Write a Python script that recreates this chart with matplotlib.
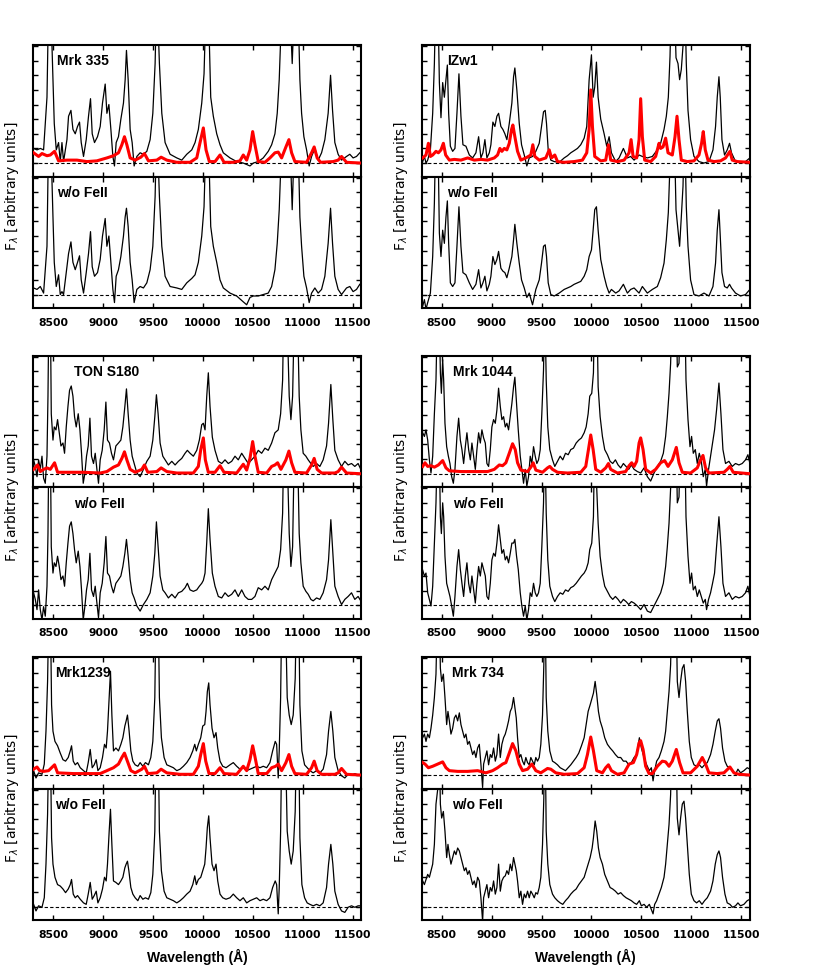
import numpy as np
import matplotlib
matplotlib.use('Agg')
import matplotlib.pyplot as plt

plt.rcParams['font.family'] = ['Liberation Sans', 'DejaVu Sans']

# spectra: (wavelength [A], flux with FeII, flux w/o FeII)
# flux in tick units, 0 = dashed baseline; values > 8 run off the panel top
mrk335 = [
    (8303, 1.0, 0.45), (8337, 0.9, 0.35), (8370, 1.0, 0.55), (8403, 0.9, 0.1), (8437, 4.5, 3.3),
    (8453, 11, 11), (8470, 12, 12), (8497, 5.7, 5.3), (8510, 2.7, 2.2), (8530, 0.9, 0.55),
    (8553, 1.4, 1.35), (8570, 0.1, 0.0), (8587, 1.4, 0.2), (8603, 0.1, 0.0), (8637, 1.6, 1.9),
    (8653, 3.2, 2.8), (8677, 3.6, 3.6), (8697, 2.3, 2.2), (8720, 2.0, 1.7), (8743, 2.5, 2.2),
    (8763, 2.8, 2.65), (8780, 1.4, 1.0), (8803, 0.45, 0.1), (8830, 1.6, 1.5), (8853, 3.2, 2.8),
    (8873, 4.4, 4.3), (8890, 2.0, 1.9), (8913, 1.4, 1.25), (8943, 1.8, 1.5), (8970, 2.5, 2.4),
    (8993, 4.1, 4.0), (9020, 5.4, 5.2), (9037, 3.4, 3.3), (9057, 4.0, 4.0), (9077, 2.3, 2.2),
    (9097, 0.45, 0.35), (9113, -0.2, -0.55), (9130, 1.4, 1.25), (9153, 1.8, 1.7), (9177, 3.0, 2.6),
    (9203, 4.1, 4.0), (9220, 5.7, 5.3), (9233, 7.7, 5.9), (9250, 5.7, 4.65), (9270, 2.3, 2.2),
    (9290, 1.4, 1.0), (9310, -0.2, -0.55), (9337, 0.45, 0.35), (9370, 0.7, 0.55), (9403, 0.6, 0.45),
    (9437, 0.8, 0.8), (9470, 1.6, 1.7), (9497, 3.4, 3.3), (9520, 6.8, 6.7), (9537, 12, 12),
    (9563, 6.8, 6.7), (9587, 3.4, 3.3), (9620, 1.4, 1.25), (9670, 0.6, 0.55), (9737, 0.35, 0.45),
    (9787, 0.2, 0.35), (9837, 0.6, 0.8), (9887, 0.9, 1.1), (9920, 1.4, 1.35), (9953, 2.3, 2.2),
    (9987, 4.1, 4.0), (10010, 6.1, 6.0), (10030, 11, 11), (10053, 11, 11), (10077, 4.5, 4.65),
    (10103, 3.2, 3.3), (10137, 2.0, 2.2), (10170, 1.25, 1.0), (10203, 0.7, 0.45), (10270, 0.35, 0.1),
    (10337, 0.1, -0.1), (10403, 0.0, -0.5), (10437, -0.1, -0.7), (10470, -0.2, -0.2), (10503, 0.0, -0.1),
    (10553, 0.1, -0.1), (10603, 0.35, 0.0), (10653, 0.8, 0.1), (10687, 1.25, 0.55), (10720, 2.0, 1.7),
    (10743, 3.4, 3.5), (10763, 5.7, 5.8), (10780, 9, 9), (10830, 14, 14), (10865, 12, 12),
    (10880, 9, 8.5), (10893, 6.8, 5.8), (10905, 9, 8.5), (10940, 14, 14), (10970, 5.7, 5.3),
    (10987, 3.4, 3.3), (11010, 1.8, 1.25), (11037, 0.9, 0.45), (11063, -0.2, -0.55), (11087, 0.45, 0.1),
    (11120, 1.0, 0.45), (11153, 0.2, 0.1), (11187, 0.7, 0.35), (11220, 1.6, 1.25), (11253, 3.4, 3.5),
    (11277, 6.0, 5.9), (11297, 3.6, 3.5), (11320, 1.4, 1.25), (11353, 0.6, 0.35), (11387, 0.2, 0.0),
    (11437, 0.45, 0.45), (11470, 0.6, 0.55), (11503, 0.35, 0.2), (11537, 0.45, 0.35), (11570, 0.7, 0.7),
]
# FeII template (red)
mrk335_fe = [
    (8303, 0.7), (8353, 0.45), (8387, 0.65), (8437, 0.5), (8470, 0.55), (8513, 0.8), (8553, 0.15),
    (8637, 0.2), (8737, 0.2), (8837, 0.1), (8937, 0.15), (9037, 0.35), (9103, 0.5), (9153, 0.7),
    (9187, 1.25), (9213, 1.8), (9237, 1.25), (9270, 0.35), (9320, 0.2), (9377, 0.4), (9413, 0.65),
    (9453, 0.15), (9537, 0.2), (9580, 0.4), (9637, 0.2), (9737, 0.05), (9870, 0.05), (9937, 0.35),
    (9970, 1.4), (10003, 2.4), (10030, 0.9), (10063, 0.1), (10120, 0.1), (10170, 0.55), (10210, 0.05),
    (10303, 0.05), (10370, 0.15), (10403, 0.55), (10437, 0.2), (10470, 0.9), (10497, 2.15), (10520, 1.25),
    (10553, 0.1), (10620, 0.05), (10670, 0.35), (10720, 0.7), (10753, 0.75), (10787, 0.35), (10830, 1.1),
    (10860, 1.6), (10887, 0.7), (10920, 0.1), (11037, 0.05), (11087, 0.7), (11113, 1.1), (11143, 0.35),
    (11177, 0.05), (11303, 0.1), (11353, 0.2), (11387, 0.45), (11437, 0.05), (11580, 0.0),
]

izw1 = [
    (8310, 0.1, -0.8), (8327, 0.45, -0.35), (8343, 0.0, -1.0), (8360, 0.2, -0.55), (8387, 0.9, 0.1),
    (8410, 3.4, 2.6), (8427, 6.8, 6.25), (8443, 12, 12), (8460, 12, 12), (8477, 5.5, 4.2),
    (8493, 3.1, 2.6), (8510, 5.5, 4.4), (8527, 4.5, 3.5), (8543, 5.7, 5.3), (8557, 6.7, 6.4),
    (8570, 3.4, 3.5), (8587, 1.15, 0.8), (8610, 0.8, 0.55), (8633, 1.0, 0.8), (8653, 3.4, 3.3),
    (8673, 6.1, 6.0), (8693, 3.2, 3.3), (8713, 1.25, 1.5), (8743, 1.15, 1.35), (8777, 0.55, 0.8),
    (8810, 0.35, 0.35), (8843, 0.7, 0.7), (8870, 1.8, 1.7), (8893, 0.35, 0.45), (8913, 0.7, 0.8),
    (8933, 1.6, 1.25), (8953, 0.35, 0.25), (8977, 0.7, 0.7), (8993, 1.25, 1.25), (9013, 2.8, 2.6),
    (9033, 2.5, 2.05), (9053, 3.2, 2.4), (9070, 3.4, 2.95), (9093, 2.5, 1.8), (9113, 2.3, 1.6),
    (9133, 2.0, 1.5), (9153, 1.6, 1.15), (9177, 2.7, 1.8), (9203, 4.1, 2.6), (9220, 5.9, 3.75),
    (9233, 6.5, 4.8), (9253, 5.0, 3.5), (9277, 2.7, 2.15), (9300, 1.25, 1.0), (9327, 0.55, 0.45),
    (9353, -0.2, -0.2), (9377, 0.35, 0.1), (9410, 0.45, -0.7), (9443, 0.8, 0.35), (9477, 1.35, 1.0),
    (9500, 2.5, 2.15), (9520, 3.5, 3.3), (9537, 3.6, 3.4), (9550, 2.7, 2.6), (9567, 0.9, 0.8),
    (9593, 0.2, 0.0), (9627, 0.1, -0.1), (9677, 0.05, 0.1), (9727, 0.35, 0.35), (9760, 0.5, 0.45),
    (9793, 0.7, 0.55), (9827, 0.85, 0.7), (9860, 1.0, 0.8), (9893, 1.25, 0.9), (9927, 1.7, 1.25),
    (9953, 2.5, 1.7), (9977, 5.7, 2.6), (10000, 7.4, 3.05), (10017, 4.5, 4.4), (10033, 5.2, 5.8),
    (10050, 6.9, 6.0), (10067, 4.5, 4.4), (10093, 3.0, 2.4), (10127, 2.0, 1.25), (10153, 1.15, 0.55),
    (10177, 1.8, 0.1), (10200, 0.7, 0.35), (10243, 0.1, 0.1), (10277, 0.35, 0.25), (10320, 1.0, 0.7),
    (10360, 0.35, 0.1), (10393, 0.45, 0.35), (10427, 0.2, 0.45), (10477, 0.55, 0.1), (10510, 0.45, 0.55),
    (10560, 0.35, 0.1), (10610, 0.45, 0.35), (10660, 0.9, 0.55), (10693, 1.35, 1.15), (10727, 2.3, 2.15),
    (10750, 3.2, 3.75), (10770, 4.5, 5.6), (10787, 7.3, 9), (10803, 12, 12), (10827, 12, 12),
    (10847, 7.2, 5.8), (10867, 6.8, 4.4), (10883, 5.7, 3.3), (10900, 6.4, 5.3), (10917, 8.0, 7.4),
    (10933, 12, 12), (10950, 6.8, 6.0), (10967, 3.6, 3.3), (10993, 1.6, 1.0), (11027, 0.45, 0.0),
    (11077, 0.1, -0.1), (11127, 0.0, 0.1), (11177, 0.1, -0.1), (11217, 0.9, 0.55), (11243, 2.5, 2.15),
    (11260, 4.5, 4.4), (11277, 5.9, 5.8), (11290, 4.5, 4.0), (11307, 1.6, 1.5), (11333, 0.55, 0.55),
    (11360, 0.9, 0.45), (11383, 1.35, 0.7), (11403, 0.7, 0.45), (11443, 0.1, 0.1), (11493, 0.0, -0.1),
    (11543, 0.1, 0.0), (11587, 0.35, 0.35),
]
izw1_fe = [
    (8310, 0.35), (8343, 0.55), (8367, 1.35), (8387, 0.45), (8410, 0.55), (8443, 0.8), (8467, 0.7),
    (8493, 0.9), (8517, 1.35), (8540, 0.55), (8577, 0.2), (8627, 0.25), (8693, 0.2), (8760, 0.35),
    (8827, 0.2), (8893, 0.25), (8960, 0.2), (9027, 0.35), (9060, 0.55), (9083, 1.0), (9103, 0.8),
    (9127, 1.0), (9153, 0.9), (9177, 1.35), (9200, 2.3), (9213, 2.6), (9233, 1.8), (9260, 0.8),
    (9293, 0.2), (9343, 0.35), (9393, 0.55), (9413, 1.25), (9433, 0.45), (9477, 0.2), (9543, 0.35),
    (9577, 0.9), (9600, 0.35), (9633, 0.55), (9660, 0.1), (9727, 0.05), (9827, 0.1), (9910, 0.2),
    (9953, 0.7), (9977, 2.3), (9993, 5.0), (10010, 2.5), (10033, 0.45), (10093, 0.15), (10143, 0.2),
    (10170, 1.25), (10193, 0.2), (10260, 0.1), (10327, 0.2), (10377, 0.7), (10397, 1.6), (10417, 0.45),
    (10453, 0.35), (10477, 1.6), (10493, 4.4), (10510, 1.8), (10533, 0.2), (10593, 0.1), (10643, 0.45),
    (10677, 1.35), (10693, 1.0), (10717, 1.1), (10743, 1.7), (10767, 0.7), (10810, 0.55), (10837, 1.8),
    (10857, 3.2), (10877, 1.6), (10900, 0.2), (10960, 0.1), (11027, 0.15), (11077, 0.55), (11103, 1.35),
    (11120, 2.15), (11140, 0.9), (11167, 0.2), (11227, 0.1), (11293, 0.15), (11343, 0.35), (11387, 0.8),
    (11410, 0.2), (11460, 0.1), (11587, 0.05),
]

tons180 = [
    (8303, 0.95, 0.85), (8320, 0.5, 0.4), (8337, -0.2, -0.3), (8353, 0.95, 1.05), (8370, 0.3, -0.3),
    (8387, 1.2, -1.0), (8403, -0.3, -0.1), (8420, -0.65, -0.75), (8437, 1.2, 1.3), (8447, 5.3, 4.9),
    (8457, 12, 12), (8470, 12, 12), (8480, 4.1, 4.0), (8497, 2.3, 2.2), (8510, 3.2, 2.9),
    (8527, 3.0, 2.65), (8543, 3.7, 3.35), (8560, 2.8, 2.65), (8577, 1.9, 1.75), (8597, 2.1, 2.0),
    (8613, 1.4, 1.3), (8630, 3.2, 2.9), (8647, 4.6, 4.25), (8663, 5.7, 5.4), (8680, 6.0, 5.7),
    (8697, 5.3, 4.9), (8713, 3.9, 3.8), (8730, 3.2, 2.9), (8750, 4.1, 3.7), (8767, 3.0, 2.65),
    (8783, 1.4, 1.05), (8800, -0.65, -1.0), (8817, 0.05, -0.05), (8833, 1.2, 1.05), (8850, 1.9, 1.75),
    (8867, 3.8, 3.55), (8883, 1.2, 1.05), (8903, 0.7, 0.6), (8920, 1.4, 1.3), (8937, 0.3, 0.15),
    (8953, -0.65, -0.85), (8970, 0.95, 0.85), (8990, 1.6, 1.5), (9010, 3.0, 2.9), (9027, 4.9, 4.7),
    (9043, 2.3, 2.2), (9063, 2.1, 2.0), (9083, 1.4, 1.3), (9103, 0.95, 0.85), (9127, 1.9, 1.5),
    (9153, 2.1, 1.75), (9177, 2.3, 2.0), (9197, 3.2, 2.65), (9217, 4.6, 3.55), (9233, 5.8, 4.5),
    (9250, 4.1, 3.35), (9270, 2.3, 1.75), (9290, 1.2, 0.85), (9310, 0.7, 0.5), (9337, 0.05, -0.05),
    (9370, -0.2, -0.4), (9403, 0.3, 0.05), (9437, 0.85, 0.4), (9470, 1.2, 0.85), (9497, 2.3, 2.0),
    (9517, 3.9, 3.55), (9533, 5.4, 5.7), (9550, 4.1, 4.0), (9570, 2.1, 2.0), (9597, 1.2, 1.05),
    (9620, 0.95, 0.85), (9653, 0.6, 0.5), (9687, 0.85, 0.75), (9720, 0.6, 0.5), (9753, 0.85, 0.85),
    (9787, 1.05, 0.95), (9820, 1.4, 1.2), (9843, 1.6, 1.5), (9870, 1.4, 1.05), (9903, 1.2, 0.95),
    (9937, 1.6, 1.05), (9963, 2.3, 1.3), (9987, 3.35, 1.5), (10003, 3.45, 1.7), (10020, 3.0, 2.2),
    (10037, 5.3, 4.3), (10053, 6.9, 6.6), (10070, 4.6, 4.5), (10093, 2.5, 2.2), (10120, 1.6, 1.3),
    (10153, 0.85, 0.6), (10187, 0.7, 0.5), (10220, 0.95, 0.85), (10253, 0.7, 0.6), (10287, 0.85, 0.75),
    (10320, 1.2, 1.05), (10353, 0.95, 0.6), (10387, 1.4, 1.05), (10420, 1.05, 0.6), (10453, 0.7, 0.4),
    (10487, 0.95, 0.4), (10520, 1.2, 0.6), (10553, 1.6, 1.2), (10587, 1.4, 1.05), (10620, 1.75, 1.3),
    (10653, 1.6, 1.05), (10687, 2.1, 1.75), (10720, 2.8, 2.2), (10753, 3.0, 2.65), (10777, 4.1, 3.8),
    (10797, 6.4, 6.3), (10810, 12, 12), (10837, 12, 12), (10863, 5.3, 4.9), (10880, 3.7, 2.65),
    (10897, 5.3, 4.0), (10917, 12, 12), (10943, 12, 12), (10963, 5.3, 4.9), (10980, 3.0, 2.9),
    (11003, 1.4, 1.3), (11030, 1.2, 0.95), (11053, 0.95, 0.75), (11080, 0.7, 0.4), (11103, 0.5, 0.3),
    (11137, 0.7, 0.5), (11170, 0.5, 0.4), (11203, 0.95, 0.85), (11237, 1.9, 1.75), (11257, 3.45, 3.1),
    (11280, 6.1, 5.85), (11300, 3.7, 3.55), (11320, 1.6, 1.3), (11353, 0.95, 0.6), (11387, 0.5, 0.05),
    (11420, 0.85, 0.4), (11453, 0.6, 0.6), (11487, 0.7, 0.85), (11520, 0.5, 0.4), (11553, 0.7, 0.6),
    (11580, 0.3, 0.3),
]
tons180_fe = [
    (8303, 0.3), (8343, 0.6), (8370, 0.15), (8403, 0.3), (8437, 0.4), (8470, 0.3), (8513, 0.75),
    (8543, 0.1), (8637, 0.1), (8803, 0.1), (8970, 0.05), (9037, 0.15), (9103, 0.45), (9153, 0.6),
    (9187, 1.05), (9213, 1.5), (9237, 0.95), (9270, 0.3), (9320, 0.1), (9387, 0.3), (9413, 0.6),
    (9447, 0.1), (9537, 0.15), (9580, 0.4), (9637, 0.15), (9737, 0.05), (9903, 0.05), (9953, 0.5),
    (9977, 1.65), (10003, 2.45), (10023, 0.95), (10053, 0.1), (10120, 0.1), (10170, 0.55), (10210, 0.1),
    (10337, 0.05), (10403, 0.65), (10437, 0.25), (10470, 1.05), (10497, 2.2), (10520, 1.2), (10553, 0.1),
    (10637, 0.05), (10687, 0.5), (10720, 0.6), (10747, 0.75), (10780, 0.3), (10830, 0.95), (10860, 1.55),
    (10887, 0.75), (10920, 0.1), (11037, 0.05), (11087, 0.6), (11113, 1.05), (11143, 0.3), (11187, 0.05),
    (11320, 0.05), (11353, 0.15), (11387, 0.45), (11437, 0.05), (11580, 0.0),
]

mrk1044 = [
    (8310, 2.8, 2.4), (8327, 2.55, 2.0), (8343, 3.0, 2.2), (8360, 2.3, 0.85), (8377, 0.95, 0.4),
    (8393, 0.05, -0.05), (8410, 1.2, 1.3), (8427, 4.1, 4.25), (8443, 6.4, 7.0), (8460, 12, 12),
    (8473, 12, 12), (8487, 6.9, 6.05), (8497, 5.5, 4.9), (8510, 7.8, 7.0), (8520, 6.4, 6.05),
    (8533, 3.45, 3.35), (8550, 1.85, 1.5), (8567, 1.2, 1.05), (8583, 0.7, 0.6), (8600, -0.2, -0.05),
    (8617, -0.65, -0.75), (8633, 0.3, 0.6), (8653, 2.55, 2.65), (8670, 3.8, 3.8), (8687, 2.3, 2.45),
    (8703, 1.65, 1.5), (8720, 0.7, 0.6), (8737, 1.85, 2.0), (8753, 2.8, 2.9), (8770, 1.65, 1.5),
    (8787, 0.95, 0.85), (8803, 2.1, 2.0), (8820, 1.2, 1.05), (8837, 0.3, 0.15), (8853, 1.65, 1.5),
    (8870, 2.8, 2.65), (8887, 2.1, 2.0), (8903, 3.0, 2.9), (8920, 2.45, 2.45), (8937, 2.1, 2.0),
    (8953, 0.7, 0.6), (8970, 0.5, 0.4), (8987, 1.65, 1.5), (9003, 3.2, 3.1), (9020, 3.7, 3.55),
    (9037, 3.45, 3.35), (9053, 4.35, 4.25), (9070, 5.85, 5.5), (9087, 4.6, 4.5), (9103, 3.7, 3.55),
    (9120, 3.9, 3.8), (9137, 3.2, 3.1), (9153, 3.45, 3.35), (9170, 3.0, 2.9), (9187, 3.9, 3.55),
    (9203, 4.8, 4.25), (9220, 5.95, 4.25), (9233, 6.6, 4.5), (9250, 4.8, 3.35), (9267, 3.0, 2.45),
    (9287, 1.2, 0.85), (9303, 0.3, -0.05), (9320, -0.65, -0.75), (9337, 0.3, -0.05), (9353, -0.85, -1.0),
    (9370, -0.2, -0.3), (9387, 1.2, 0.85), (9403, 0.7, 0.6), (9420, 1.85, 1.5), (9437, 1.2, 0.85),
    (9453, 0.7, 0.6), (9470, 0.95, 0.85), (9487, 1.65, 1.5), (9503, 4.1, 4.0), (9520, 7.1, 7.0),
    (9533, 12, 12), (9547, 6.4, 6.3), (9563, 3.2, 3.1), (9583, 1.65, 1.3), (9610, 0.95, 0.6),
    (9633, 0.5, 0.25), (9660, 0.85, 0.6), (9687, 1.2, 0.85), (9713, 0.95, 0.75), (9740, 1.4, 1.05),
    (9767, 1.3, 0.95), (9793, 1.65, 1.2), (9820, 1.75, 1.3), (9847, 2.1, 1.5), (9873, 2.3, 1.75),
    (9900, 2.45, 2.0), (9927, 2.8, 2.2), (9947, 3.2, 2.45), (9967, 4.1, 2.9), (9983, 5.3, 3.8),
    (10003, 5.5, 4.25), (10020, 6.9, 6.05), (10033, 12, 12), (10053, 12, 8.0), (10067, 5.95, 5.6),
    (10087, 3.9, 3.35), (10110, 2.55, 2.1), (10133, 1.65, 1.3), (10160, 1.3, 0.95), (10187, 0.85, 0.6),
    (10213, 0.7, 0.4), (10240, 0.95, 0.6), (10267, 0.6, 0.4), (10293, 0.4, 0.15), (10320, 0.7, 0.4),
    (10347, 0.5, 0.25), (10373, 0.3, 0.05), (10400, 0.6, 0.25), (10427, 0.3, 0.15), (10460, 0.15, -0.05),
    (10493, 0.05, -0.3), (10527, 0.4, 0.05), (10560, -0.2, -0.4), (10593, -0.5, -0.5), (10627, 0.05, -0.05),
    (10660, 0.5, 0.4), (10693, 0.85, 0.85), (10720, 1.4, 1.5), (10743, 2.55, 2.65), (10760, 3.9, 4.0),
    (10777, 5.5, 5.6), (10793, 7.55, 8.0), (10810, 12, 12), (10847, 12, 12), (10860, 7.3, 7.0),
    (10877, 7.55, 7.4), (10893, 12, 12), (10933, 12, 12), (10947, 6.4, 6.05), (10967, 3.7, 3.35),
    (10987, 1.85, 1.5), (11003, 2.55, 2.2), (11020, 1.4, 1.05), (11040, 1.65, 1.3), (11060, 0.7, 0.6),
    (11080, 1.4, 1.05), (11100, 0.85, 0.6), (11120, -0.2, 0.15), (11140, 0.3, 0.4), (11153, -0.85, -0.3),
    (11173, 0.3, 0.4), (11193, 1.2, 0.85), (11213, 2.1, 1.5), (11233, 3.0, 2.2), (11253, 4.35, 4.0),
    (11277, 6.2, 6.05), (11297, 4.1, 4.0), (11317, 1.65, 1.5), (11343, 0.7, 0.6), (11377, 0.85, 0.85),
    (11410, 0.5, 0.4), (11443, 0.7, 0.6), (11477, 0.6, 0.5), (11510, 0.7, 0.6), (11543, 0.95, 0.85),
    (11567, 1.3, 1.3), (11587, 0.7, 0.6),
]
mrk1044_fe = [
    (8310, 0.5), (8333, 0.75), (8360, 0.5), (8393, 0.55), (8427, 0.45), (8467, 0.6), (8510, 0.9),
    (8543, 0.4), (8577, 0.2), (8693, 0.15), (8827, 0.15), (8960, 0.15), (9027, 0.3), (9077, 0.6),
    (9110, 0.55), (9143, 0.75), (9177, 1.4), (9210, 2.05), (9237, 1.65), (9260, 0.75), (9293, 0.25),
    (9360, 0.15), (9393, 0.45), (9417, 0.75), (9443, 0.25), (9510, 0.1), (9560, 0.4), (9583, 0.5),
    (9610, 0.3), (9660, 0.1), (9760, 0.05), (9893, 0.1), (9943, 0.5), (9970, 1.65), (9993, 2.65),
    (10017, 1.65), (10043, 0.3), (10093, 0.1), (10143, 0.4), (10170, 0.7), (10193, 0.3), (10260, 0.05),
    (10343, 0.15), (10377, 0.55), (10403, 0.75), (10427, 0.5), (10453, 0.85), (10477, 2.1), (10493, 2.45),
    (10517, 1.65), (10543, 0.3), (10593, 0.05), (10643, 0.3), (10693, 0.75), (10733, 0.9), (10767, 0.5),
    (10810, 0.95), (10850, 1.8), (10877, 0.75), (10910, 0.1), (10993, 0.05), (11060, 0.4), (11093, 0.95),
    (11117, 1.25), (11143, 0.4), (11177, 0.05), (11327, 0.1), (11360, 0.3), (11387, 0.5), (11420, 0.1),
    (11587, 0.0),
]

mrk1239_wl = [
    8303, 8327, 8353, 8387, 8410, 8427, 8443, 8457, 8470, 8483, 8497, 8517, 8543, 8570, 8597,
    8623, 8650, 8670, 8683, 8700, 8720, 8743, 8770, 8803, 8830, 8850, 8870, 8890, 8910, 8930,
    8947, 8970, 8993, 9013, 9030, 9043, 9060, 9073, 9087, 9103, 9127, 9153, 9177, 9197, 9217,
    9230, 9243, 9257, 9277, 9297, 9320, 9347, 9370, 9397, 9423, 9453, 9477, 9497, 9517, 9530,
    9550, 9563, 9583, 9610, 9637, 9670, 9703, 9737, 9770, 9803, 9837, 9870, 9897, 9917, 9933,
    9953, 9977, 9997, 10017, 10030, 10043, 10057, 10070, 10090, 10110, 10130, 10147, 10170, 10197, 10230,
    10270, 10303, 10337, 10370, 10403, 10437, 10470, 10503, 10537, 10570, 10603, 10637, 10670, 10697, 10723,
    10737, 10753, 10763, 10777, 10790, 10823, 10843, 10863, 10883, 10903, 10923, 10937, 10957, 10970, 10990,
    11017, 11043, 11070, 11103, 11137, 11170, 11203, 11237, 11257, 11280, 11300, 11320, 11353, 11387, 11420,
    11453, 11487, 11520, 11553, 11580,
]
mrk1239_top = [
    0.3, -0.2, 0.15, 0.05, 0.75, 3.0, 6.4, 12, 12, 4.8, 3.0, 2.3, 2.0, 1.5, 1.05,
    0.95, 1.2, 1.65, 2.0, 0.95, 0.7, 0.85, 0.5, 0.3, 0.15, 0.85, 1.75, 0.5, 0.7, 1.05,
    0.3, 0.5, 1.2, 2.1, 1.85, 3.0, 5.3, 7.1, 4.1, 1.65, 1.85, 1.65, 2.1, 2.55, 3.35,
    3.7, 4.1, 3.2, 1.65, 0.95, 0.7, 0.6, 0.85, 0.6, 0.85, 0.7, 1.2, 2.3, 5.3, 12,
    12, 5.3, 2.55, 1.2, 0.7, 0.6, 0.5, 0.3, 0.4, 0.6, 0.85, 1.2, 1.65, 2.1, 1.65,
    2.1, 2.55, 3.35, 3.45, 4.35, 5.7, 6.3, 4.8, 3.2, 2.55, 2.9, 1.85, 0.95, 0.6, 0.5,
    0.7, 0.85, 0.6, 0.4, 0.5, 0.3, 0.4, 0.5, 0.6, 0.5, 0.6, 0.5, 0.85, 1.65, 2.3,
    2.1, -0.2, 1.65, 5.3, 12, 12, 5.3, 4.1, 3.45, 4.1, 6.6, 12, 12, 4.8, 1.65,
    0.7, 0.5, 0.3, 0.15, 0.3, 0.15, 0.4, 1.4, 3.0, 4.35, 3.0, 1.2, 0.3, -0.05, -0.2,
    0.05, 0.0, 0.1, 0.0, 0.05,
]
mrk1239_bot = [
    0.15, -0.3, 0.05, -0.05, 0.6, 2.9, 6.3, 12, 12, 4.7, 2.9, 2.0, 1.5, 1.4, 1.2,
    0.95, 1.2, 1.5, 1.85, 0.85, 0.6, 0.75, 0.5, 0.25, 0.15, 0.85, 1.65, 0.5, 0.75, 1.05,
    0.25, 0.6, 1.2, 2.0, 1.75, 2.9, 5.15, 6.65, 4.25, 1.75, 1.65, 1.5, 1.75, 2.0, 2.65,
    2.9, 3.1, 2.45, 1.3, 0.85, 0.6, 0.4, 0.75, 0.5, 0.6, 0.5, 0.95, 2.2, 5.15, 12,
    12, 5.15, 2.45, 1.05, 0.6, 0.5, 0.4, 0.25, 0.4, 0.6, 0.85, 1.05, 1.5, 2.1, 1.5,
    1.85, 2.0, 2.45, 2.9, 4.0, 5.4, 6.2, 4.7, 2.9, 2.45, 2.9, 1.75, 0.85, 0.6, 0.5,
    0.6, 0.85, 0.6, 0.4, 0.6, 0.25, 0.4, 0.5, 0.6, 0.4, 0.5, 0.4, 0.6, 1.3, 1.75,
    1.5, -0.5, 1.3, 5.15, 12, 12, 5.15, 3.8, 2.9, 3.8, 6.5, 12, 12, 4.7, 1.5,
    0.6, 0.25, 0.15, 0.05, 0.15, 0.05, 0.25, 1.3, 2.9, 4.25, 2.9, 1.05, 0.15, -0.3, -0.4,
    -0.05, 0.05, -0.05, 0.05, 0.05,
]
mrk1239 = list(zip(mrk1239_wl, mrk1239_top, mrk1239_bot))
mrk1239_fe = [
    (8303, 0.4), (8337, 0.55), (8363, 0.3), (8403, 0.25), (8453, 0.3), (8513, 0.7), (8543, 0.15),
    (8703, 0.1), (8870, 0.1), (8970, 0.1), (9037, 0.3), (9103, 0.5), (9153, 0.75), (9187, 1.2),
    (9213, 1.5), (9237, 1.05), (9277, 0.3), (9320, 0.15), (9387, 0.4), (9413, 0.6), (9447, 0.1),
    (9537, 0.15), (9580, 0.4), (9637, 0.15), (9770, 0.05), (9903, 0.05), (9953, 0.6), (9977, 1.4),
    (10003, 2.15), (10027, 0.95), (10060, 0.1), (10120, 0.1), (10170, 0.5), (10210, 0.1), (10337, 0.05),
    (10403, 0.6), (10437, 0.3), (10470, 1.05), (10497, 2.0), (10520, 1.25), (10553, 0.1), (10637, 0.1),
    (10687, 0.5), (10727, 0.6), (10753, 0.75), (10787, 0.3), (10830, 0.85), (10860, 1.4), (10887, 0.6),
    (10920, 0.1), (11037, 0.05), (11087, 0.5), (11113, 0.95), (11143, 0.3), (11187, 0.05), (11320, 0.05),
    (11353, 0.15), (11387, 0.45), (11437, 0.05), (11580, 0.0),
]

mrk734 = [
    (8310, 2.55, 1.75), (8327, 2.8, 1.5), (8343, 2.3, 1.85), (8360, 2.8, 2.2), (8377, 2.55, 2.0),
    (8393, 3.2, 2.45), (8410, 4.1, 2.9), (8427, 5.3, 4.25), (8443, 6.9, 7.0), (8460, 12, 8.0),
    (8473, 12, 12), (8487, 7.3, 7.0), (8500, 6.4, 6.05), (8517, 6.9, 6.5), (8533, 5.3, 5.15),
    (8550, 3.45, 3.35), (8563, 4.35, 4.25), (8577, 3.7, 3.55), (8593, 2.8, 2.9), (8610, 3.2, 3.35),
    (8627, 3.9, 3.8), (8643, 4.1, 3.55), (8660, 3.7, 4.0), (8677, 4.25, 3.8), (8693, 3.45, 3.35),
    (8710, 3.0, 2.9), (8727, 2.55, 2.45), (8743, 2.8, 2.65), (8760, 2.1, 2.2), (8777, 2.3, 2.45),
    (8793, 1.85, 2.0), (8810, 1.4, 1.5), (8827, 1.65, 1.75), (8843, 1.2, 1.3), (8860, 1.85, 2.0),
    (8877, 2.1, 1.75), (8893, 0.75, 0.6), (8910, -0.85, -1.0), (8920, 0.75, 0.6), (8937, 1.2, 1.05),
    (8953, 1.65, 1.5), (8970, 0.7, 0.6), (8987, 1.4, 1.3), (9003, 1.2, 1.05), (9020, 1.85, 1.75),
    (9037, 0.95, 0.85), (9053, 1.4, 1.3), (9070, 2.8, 2.9), (9087, 1.2, 1.05), (9103, 2.1, 1.75),
    (9120, 2.55, 2.0), (9137, 2.8, 2.1), (9153, 3.2, 2.45), (9170, 3.7, 2.2), (9187, 4.35, 2.9),
    (9203, 4.6, 2.45), (9220, 5.3, 3.35), (9233, 4.6, 2.9), (9247, 3.9, 2.45), (9260, 2.55, 1.75),
    (9277, 1.2, 0.6), (9293, 1.4, 1.05), (9310, 0.95, 0.15), (9327, 0.7, 0.85), (9343, 1.2, 0.6),
    (9360, 0.85, 1.05), (9377, 0.7, 0.6), (9393, 1.2, 1.05), (9410, 0.95, 0.85), (9427, 0.7, 0.6),
    (9443, 1.2, 0.95), (9460, 0.95, 0.85), (9477, 1.2, 1.3), (9493, 2.1, 2.0), (9510, 4.1, 4.25),
    (9523, 7.5, 7.4), (9533, 14, 14), (9547, 5.3, 5.15), (9563, 3.0, 2.9), (9583, 1.65, 1.5),
    (9610, 0.95, 0.85), (9633, 0.85, 0.6), (9660, 0.7, 0.4), (9687, 0.5, 0.25), (9713, 0.4, 0.15),
    (9740, 0.3, 0.4), (9767, 0.5, 0.6), (9793, 0.7, 0.85), (9820, 0.95, 1.05), (9847, 1.2, 1.2),
    (9873, 1.5, 1.5), (9900, 2.0, 1.75), (9927, 2.55, 2.0), (9947, 3.45, 2.45), (9967, 4.35, 2.9),
    (9987, 4.8, 3.35), (10007, 5.3, 4.0), (10020, 5.6, 4.7), (10037, 6.4, 5.85), (10053, 5.5, 5.15),
    (10070, 4.35, 4.0), (10087, 3.7, 3.35), (10110, 3.2, 2.9), (10133, 2.55, 2.2), (10160, 2.1, 1.75),
    (10187, 1.85, 1.3), (10213, 1.65, 1.2), (10240, 1.4, 1.05), (10267, 1.2, 0.85), (10293, 1.2, 0.95),
    (10320, 0.95, 0.75), (10347, 0.95, 0.6), (10373, 0.7, 0.5), (10400, 0.85, 0.4), (10427, 1.2, 0.25),
    (10453, 1.4, 0.15), (10480, 2.55, 0.4), (10500, 1.85, 0.05), (10527, 1.2, 0.15), (10553, 0.7, -0.05),
    (10580, 0.3, 0.15), (10600, 0.5, -0.2), (10617, -0.4, -0.5), (10633, 0.3, 0.15), (10653, 0.95, 0.4),
    (10677, 1.2, 0.85), (10700, 1.65, 1.3), (10727, 2.3, 2.0), (10743, 3.0, 2.9), (10760, 4.35, 4.25),
    (10777, 5.7, 5.6), (10793, 7.55, 7.65), (10807, 12, 12), (10847, 12, 12), (10860, 6.4, 6.05),
    (10877, 5.3, 4.9), (10893, 6.4, 6.05), (10910, 7.3, 7.0), (10927, 7.55, 7.2), (10943, 6.4, 6.05),
    (10960, 4.35, 4.25), (10980, 2.3, 2.2), (11000, 1.2, 0.85), (11027, 0.7, 0.4), (11053, 0.6, 0.25),
    (11080, 0.7, 0.4), (11107, 0.5, 0.15), (11133, 0.7, 0.4), (11160, 0.85, 0.6), (11193, 1.4, 1.05),
    (11217, 2.1, 1.75), (11240, 3.0, 2.9), (11260, 3.7, 3.55), (11277, 3.85, 3.8), (11293, 3.2, 3.35),
    (11313, 1.85, 2.0), (11337, 0.95, 0.85), (11360, 0.6, 0.25), (11387, 0.5, 0.15), (11413, 0.3, -0.05),
    (11443, 0.05, 0.05), (11467, 0.4, 0.25), (11493, 0.15, 0.05), (11527, 0.3, 0.15), (11560, 0.5, 0.4),
    (11587, 0.4, 0.5),
]
mrk734_fe = [
    (8310, 0.85), (8333, 0.75), (8367, 0.5), (8410, 0.6), (8460, 0.75), (8510, 0.9), (8543, 0.5),
    (8577, 0.3), (8660, 0.25), (8760, 0.25), (8860, 0.3), (8943, 0.15), (9010, 0.3), (9060, 0.5),
    (9110, 0.75), (9143, 0.85), (9177, 1.5), (9210, 2.15), (9243, 1.65), (9277, 0.75), (9310, 0.3),
    (9360, 0.4), (9403, 0.75), (9443, 0.3), (9493, 0.15), (9560, 0.45), (9593, 0.4), (9643, 0.15),
    (9727, 0.05), (9860, 0.1), (9927, 0.5), (9960, 1.4), (9993, 2.6), (10020, 1.65), (10053, 0.3),
    (10110, 0.15), (10143, 0.5), (10170, 0.7), (10200, 0.3), (10260, 0.05), (10327, 0.15), (10377, 0.75),
    (10420, 0.85), (10453, 1.4), (10477, 2.2), (10493, 2.35), (10517, 1.75), (10543, 0.6), (10577, 0.1),
    (10610, 0.1), (10660, 0.6), (10710, 0.95), (10743, 0.9), (10777, 0.6), (10810, 0.95), (10850, 1.75),
    (10883, 0.85), (10917, 0.15), (10993, 0.15), (11060, 0.6), (11110, 1.2), (11143, 0.75), (11177, 0.15),
    (11260, 0.1), (11327, 0.15), (11387, 0.55), (11427, 0.15), (11477, 0.05), (11587, 0.0),
]

names = ['Mrk 335', 'IZw1', 'TON S180', 'Mrk 1044', 'Mrk1239', 'Mrk 734']
spectra = [mrk335, izw1, tons180, mrk1044, mrk1239, mrk734]
feii = [mrk335_fe, izw1_fe, tons180_fe, mrk1044_fe, mrk1239_fe, mrk734_fe]
label_x = [0.072, 0.076, 0.125, 0.096, 0.066, 0.091]   # where the name sits in each panel

xticks = [8500, 9000, 9500, 10000, 10500, 11000, 11500]
xtick_labels = ['8500', '9000', '9500', '10000', '10500', '11000', '11500']

W, H = 830., 969.
fig = plt.figure(figsize=(8.3, 9.69), dpi=100)

col_x = [33.3, 421.7]      # left edge of each column (px)
row_top = [45., 355.7, 657.]
aw, ah = 328., 131.5


def style(ax, last):
    ax.set_xlim(8300, 11585)
    ax.set_ylim(-0.92, 8.07)
    ax.axhline(0, color='k', lw=0.8, ls=(0, (3, 2)), zorder=1)
    ax.set_xticks(xticks)
    ax.set_yticks(range(9))
    ax.tick_params(direction='in', top=True, right=True, length=3.5, width=1.0,
                   labelleft=False, labelbottom=last, pad=7)
    if last:
        ax.set_xticklabels(xtick_labels, fontweight='bold', fontsize=7.8, family='DejaVu Sans')
    for s in ax.spines.values():
        s.set_linewidth(1.5)


for i in range(6):
    r, c = i // 2, i % 2
    x0 = col_x[c] / W
    d = np.array(spectra[i], dtype=float)
    fe = np.array(feii[i], dtype=float)

    # upper panel: observed spectrum + FeII template
    ax1 = fig.add_axes([x0, 1 - (row_top[r] + ah) / H, aw / W, ah / H])
    ax1.plot(d[:, 0], d[:, 1], color='k', lw=0.9, zorder=2)
    ax1.plot(fe[:, 0], fe[:, 1], color='red', lw=2.2, zorder=3)
    style(ax1, False)
    ax1.text(label_x[i], 0.875, names[i], transform=ax1.transAxes, fontsize=10,
             fontweight='bold', va='center', ha='left')

    # lower panel: FeII subtracted
    ax2 = fig.add_axes([x0, 1 - (row_top[r] + 2 * ah) / H, aw / W, ah / H])
    ax2.plot(d[:, 0], d[:, 2], color='k', lw=0.9, zorder=2)
    style(ax2, True)
    ax2.text(label_x[i], 0.875, 'w/o FeII', transform=ax2.transAxes, fontsize=10,
             fontweight='bold', va='center', ha='left')

    # y label for the pair, a bit below the divider
    fig.text((col_x[c] - 21) / W, 1 - (row_top[r] + ah + 10) / H, r'F$_\lambda$ [arbitrary units]',
             rotation=90, ha='center', va='center', fontsize=10, family='DejaVu Sans')

for c in range(2):
    fig.text((col_x[c] + aw / 2) / W, 1 - 957 / H, 'Wavelength (Å)', ha='center', va='center',
             fontsize=10, fontweight='bold')

fig.savefig('out.png', dpi=100)
